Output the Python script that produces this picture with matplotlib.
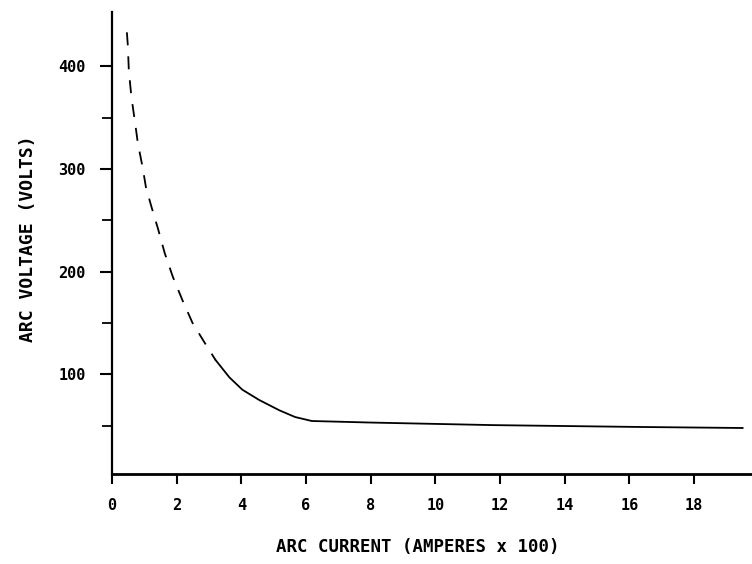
import matplotlib
matplotlib.use("Agg")
import matplotlib.pyplot as plt
import numpy as np

# dashed (extrapolated) part of the curve
x_dashed = [0.46, 0.49, 0.52, 0.60, 0.70, 0.80, 0.95, 1.05, 1.23, 1.42, 1.63, 1.88, 2.18, 2.49, 2.86, 3.20]
y_dashed = [433, 420, 396, 370, 348, 325, 301, 282, 262, 242, 218, 195, 172, 150, 131, 114]
# solid (measured) part of the curve
x_solid = [3.20, 3.63, 4.03, 4.55, 5.17, 5.66, 6.18, 6.8, 8.0, 11.8, 16.3, 19.5]
y_solid = [114, 97, 85, 75, 65, 58.4, 54.5, 54.0, 53.0, 50.5, 48.7, 47.7]

x_ticks = [0, 2, 4, 6, 8, 10, 12, 14, 16, 18]
y_ticks = [100, 200, 300, 400]
y_minor = [50, 150, 250, 350]

mono = "DejaVu Sans Mono"

fig = plt.figure(figsize=(7.52, 5.64), dpi=100)
ax = fig.add_axes([112/752, 90/564, 640/752, 462/564])

ax.plot(x_dashed, y_dashed, color="black", lw=1.3, linestyle=(0, (7.2, 6.1)))
ax.plot(x_solid, y_solid, color="black", lw=1.3)

ax.set_xlim(0.1, 19.79)
ax.set_ylim(2.9, 452.8)

for s in ["top", "right"]:
    ax.spines[s].set_visible(False)
ax.spines["left"].set_linewidth(1.6)
ax.spines["bottom"].set_linewidth(2.0)

ax.set_xticks(x_ticks)
ax.set_xticklabels([str(v) for v in x_ticks], fontfamily=mono, fontweight="bold", fontsize=11)
ax.set_yticks(y_ticks)
ax.set_yticklabels([str(v) for v in y_ticks], fontfamily=mono, fontweight="bold", fontsize=11)
ax.set_yticks(y_minor, minor=True)

ax.tick_params(axis="y", which="major", direction="out", length=9, width=1.5, pad=10)
ax.tick_params(axis="y", which="minor", direction="out", length=7, width=1.3)
ax.tick_params(axis="x", which="major", direction="out", length=7, width=1.5, pad=10)

fig.text(28/752, (564-239)/564, "ARC VOLTAGE (VOLTS)", rotation=90, ha="center", va="center",
         fontfamily=mono, fontweight="bold", fontsize=13)
fig.text(418/752, 17/564, "ARC CURRENT (AMPERES x 100)", ha="center", va="center",
         fontfamily=mono, fontweight="bold", fontsize=12.5)

fig.savefig("out.png", dpi=100)
